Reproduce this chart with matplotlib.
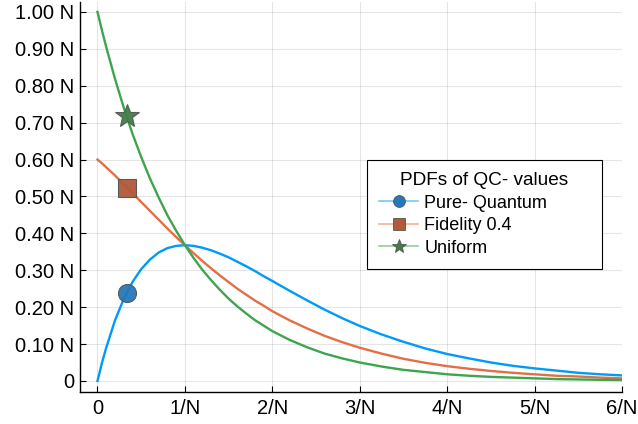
import numpy as np
import matplotlib
matplotlib.use('Agg')
import matplotlib.pyplot as plt
from matplotlib.ticker import FixedLocator
from matplotlib.lines import Line2D

plt.rcParams['font.family'] = ['Liberation Sans', 'DejaVu Sans']

# values (x in units of 1/N, y in units of N)
x = [0, 0.05, 0.1, 0.2, 0.3, 0.4, 0.5, 0.6, 0.7, 0.8, 0.9, 1.0,
     1.1, 1.2, 1.3, 1.4, 1.5, 1.6, 1.7, 1.8, 1.9, 2.0,
     2.2, 2.4, 2.6, 2.8, 3.0,
     3.25, 3.5, 3.75, 4.0, 4.25, 4.5, 4.75, 5.0, 5.25, 5.5, 5.75, 6.0]
pure = [0, 0.048, 0.090, 0.164, 0.222, 0.268, 0.303, 0.329, 0.348, 0.360,
        0.366, 0.368,
        0.366, 0.361, 0.354, 0.345, 0.335, 0.323, 0.311, 0.298, 0.284, 0.271,
        0.244, 0.218, 0.193, 0.170, 0.149,
        0.126, 0.106, 0.088, 0.073, 0.061, 0.050, 0.041, 0.034, 0.028, 0.022,
        0.018, 0.015]
fidelity = [0.600, 0.590, 0.579, 0.557, 0.533, 0.509, 0.485, 0.461, 0.437,
            0.413, 0.390, 0.368,
            0.346, 0.325, 0.305, 0.286, 0.268, 0.250, 0.234, 0.218, 0.204,
            0.189,
            0.164, 0.142, 0.122, 0.105, 0.090,
            0.074, 0.060, 0.049, 0.040, 0.033, 0.027, 0.022, 0.018, 0.014,
            0.012, 0.009, 0.007]
uniform = [1.000, 0.951, 0.905, 0.819, 0.741, 0.670, 0.607, 0.549, 0.497,
           0.449, 0.407, 0.368,
           0.333, 0.301, 0.273, 0.247, 0.223, 0.202, 0.183, 0.165, 0.150,
           0.135,
           0.111, 0.091, 0.074, 0.061, 0.050,
           0.039, 0.030, 0.024, 0.018, 0.014, 0.011, 0.009, 0.007, 0.005,
           0.004, 0.003, 0.0025]

mark_x = [0.333, 0.333, 0.333]
mark_y = [0.239, 0.524, 0.717]

labels = ['Pure- Quantum', 'Fidelity 0.4', 'Uniform']
line_colors = ['#009AFA', '#E36F47', '#3EA44E']
mark_colors = ['#2479B8', '#B05A3C', '#3F7F45']
markers = ['o', 's', '*']
mark_sizes = [13, 13, 18]
leg_sizes = [8.5, 9, 10]

xticks = [0, 1, 2, 3, 4, 5, 6]
xticklabels = ['0', '1/N', '2/N', '3/N', '4/N', '5/N', '6/N']
yticks = [0, 0.1, 0.2, 0.3, 0.4, 0.5, 0.6, 0.7, 0.8, 0.9, 1.0]
yticklabels = ['0', '0.10 N', '0.20 N', '0.30 N', '0.40 N', '0.50 N',
               '0.60 N', '0.70 N', '0.80 N', '0.90 N', '1.00 N']

fig = plt.figure(figsize=(6.38, 4.24), dpi=100)
ax = fig.add_axes([80 / 638, 1 - 392 / 424, (622 - 80) / 638, 390 / 424])

series = [pure, fidelity, uniform]
handles = []
for i in range(3):
    ax.plot(x, series[i], color=line_colors[i], lw=1.7, zorder=2)
    ax.plot(mark_x[i], mark_y[i], marker=markers[i], ms=mark_sizes[i],
            color=mark_colors[i], mec='#555555', mew=0.8, ls='none',
            alpha=0.95, zorder=3)
    ln = Line2D([], [], color=line_colors[i], lw=1.2, alpha=0.55)
    mk = Line2D([], [], ls='none', marker=markers[i], ms=leg_sizes[i],
                mfc=mark_colors[i], mec='#555555', mew=0.6)
    handles.append((ln, mk))

ax.set_xlim(-0.2, 6.0)
ax.set_ylim(-0.03, 1.027)
ax.xaxis.set_major_locator(FixedLocator(xticks))
ax.set_xticklabels(xticklabels)
ax.yaxis.set_major_locator(FixedLocator(yticks))
ax.set_yticklabels(yticklabels)
ax.tick_params(direction='in', length=4, width=0.8, labelsize=14.5,
               colors='#000000')
ax.tick_params(axis='x', pad=5)
ax.tick_params(axis='y', pad=4)
ax.grid(True, color='#000000', alpha=0.1, lw=0.8)
for s in ['top', 'right']:
    ax.spines[s].set_visible(False)
for s in ['left', 'bottom']:
    ax.spines[s].set_linewidth(1.0)

leg = ax.legend(handles=handles, labels=labels, title='PDFs of QC- values',
                loc='upper left',
                bbox_to_anchor=(367 / 638, 1 - 270 / 424, 235 / 638, 110 / 424),
                bbox_transform=fig.transFigure, mode='expand',
                fontsize=13, title_fontsize=13.7, frameon=True,
                fancybox=False, framealpha=1, edgecolor='#000000',
                handlelength=2.15, handletextpad=0.35, borderpad=0.68,
                labelspacing=0.3, borderaxespad=0)
leg.get_frame().set_linewidth(0.8)
leg._legend_box.align = 'center'

fig.savefig('out.png', dpi=100)
